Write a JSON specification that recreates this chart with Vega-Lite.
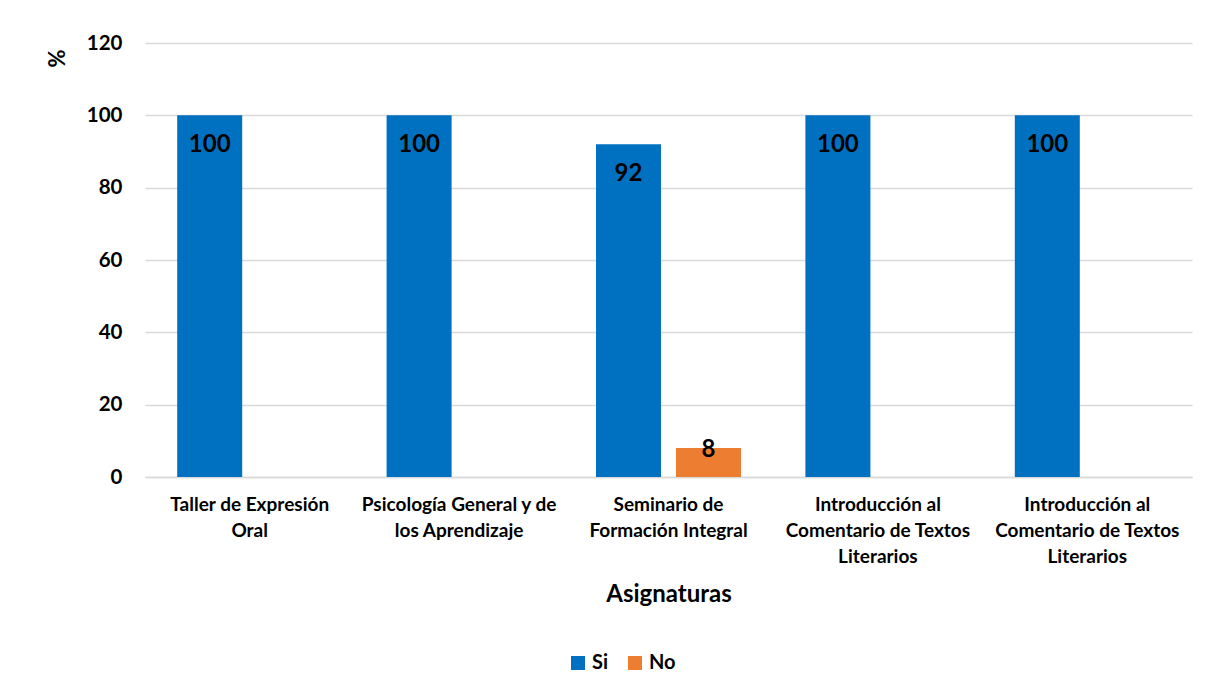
{
  "$schema": "https://vega.github.io/schema/vega-lite/v6.json",
  "autosize": "none",
  "width": 1047,
  "height": 434,
  "padding": {"left": 145, "top": 43, "right": 17, "bottom": 219},
  "background": "white",
  "config": {
    "font": "Lato",
    "view": {"stroke": null},
    "axis": {"labelFont": "Lato", "titleFont": "Lato", "labelFontWeight": "bold", "titleFontWeight": "bold", "labelColor": "#000000", "titleColor": "#000000"}
  },
  "data": {
    "values": [
      {"asignatura": "1|Taller de Expresión|Oral", "respuesta": "Si", "porcentaje": 100},
      {"asignatura": "1|Taller de Expresión|Oral", "respuesta": "No", "porcentaje": null},
      {"asignatura": "2|Psicología General y de|los Aprendizaje", "respuesta": "Si", "porcentaje": 100},
      {"asignatura": "2|Psicología General y de|los Aprendizaje", "respuesta": "No", "porcentaje": null},
      {"asignatura": "3|Seminario de|Formación Integral", "respuesta": "Si", "porcentaje": 92},
      {"asignatura": "3|Seminario de|Formación Integral", "respuesta": "No", "porcentaje": 8},
      {"asignatura": "4|Introducción al|Comentario de Textos|Literarios", "respuesta": "Si", "porcentaje": 100},
      {"asignatura": "4|Introducción al|Comentario de Textos|Literarios", "respuesta": "No", "porcentaje": null},
      {"asignatura": "5|Introducción al|Comentario de Textos|Literarios", "respuesta": "Si", "porcentaje": 100},
      {"asignatura": "5|Introducción al|Comentario de Textos|Literarios", "respuesta": "No", "porcentaje": null}
    ]
  },
  "encoding": {
    "x": {
      "field": "asignatura",
      "type": "nominal",
      "sort": null,
      "scale": {"paddingInner": 0, "paddingOuter": 0},
      "axis": {
        "title": "Asignaturas",
        "titleFontSize": 24,
        "titlePadding": 16,
        "labelExpr": "slice(split(datum.value, '|'), 1)",
        "labelAngle": 0,
        "labelFontSize": 19,
        "labelLineHeight": 26,
        "labelPadding": 18,
        "labelBaseline": "top",
        "labelLimit": 0,
        "labelOverlap": false,
        "ticks": false,
        "domainColor": "#D9D9D9",
        "domainWidth": 1.5,
        "grid": false
      }
    },
    "xOffset": {
      "field": "respuesta",
      "type": "nominal",
      "sort": ["Si", "No"],
      "scale": {"paddingInner": 0.1875, "paddingOuter": 0.4025}
    },
    "y": {
      "field": "porcentaje",
      "type": "quantitative",
      "scale": {"domain": [0, 120]},
      "axis": {
        "title": "%",
        "titleFontSize": 22,
        "titleAngle": 270,
        "titleX": -88,
        "titleY": 15,
        "titleAlign": "center",
        "titleBaseline": "middle",
        "values": [0, 20, 40, 60, 80, 100, 120],
        "labelFontSize": 20.5,
        "labelPadding": 23,
        "ticks": false,
        "domain": false,
        "gridColor": "#D9D9D9",
        "gridWidth": 1.5
      }
    }
  },
  "layer": [
    {
      "mark": {"type": "bar"},
      "encoding": {
        "color": {
          "field": "respuesta",
          "type": "nominal",
          "sort": ["Si", "No"],
          "scale": {"domain": ["Si", "No"], "range": ["#0070C0", "#ED7D31"]},
          "legend": {
            "title": null,
            "orient": "none",
            "direction": "horizontal",
            "legendX": 423,
            "legendY": 610,
            "symbolType": "square",
            "symbolSize": 196,
            "symbolStrokeWidth": 0,
            "labelFont": "Lato",
            "labelFontSize": 20,
            "labelFontWeight": "bold",
            "labelColor": "#000000",
            "columnPadding": 16,
            "labelOffset": 4
          }
        }
      }
    },
    {
      "transform": [{"filter": "datum.respuesta == 'Si'"}],
      "mark": {"type": "text", "dy": 30, "fontSize": 24, "fontWeight": "bold", "color": "#000000", "baseline": "middle"},
      "encoding": {"text": {"field": "porcentaje", "type": "quantitative"}}
    },
    {
      "transform": [{"filter": "datum.respuesta == 'No' && isValid(datum.porcentaje)"}],
      "mark": {"type": "text", "dy": 2, "fontSize": 24, "fontWeight": "bold", "color": "#000000", "baseline": "middle"},
      "encoding": {"text": {"field": "porcentaje", "type": "quantitative"}}
    }
  ]
}
